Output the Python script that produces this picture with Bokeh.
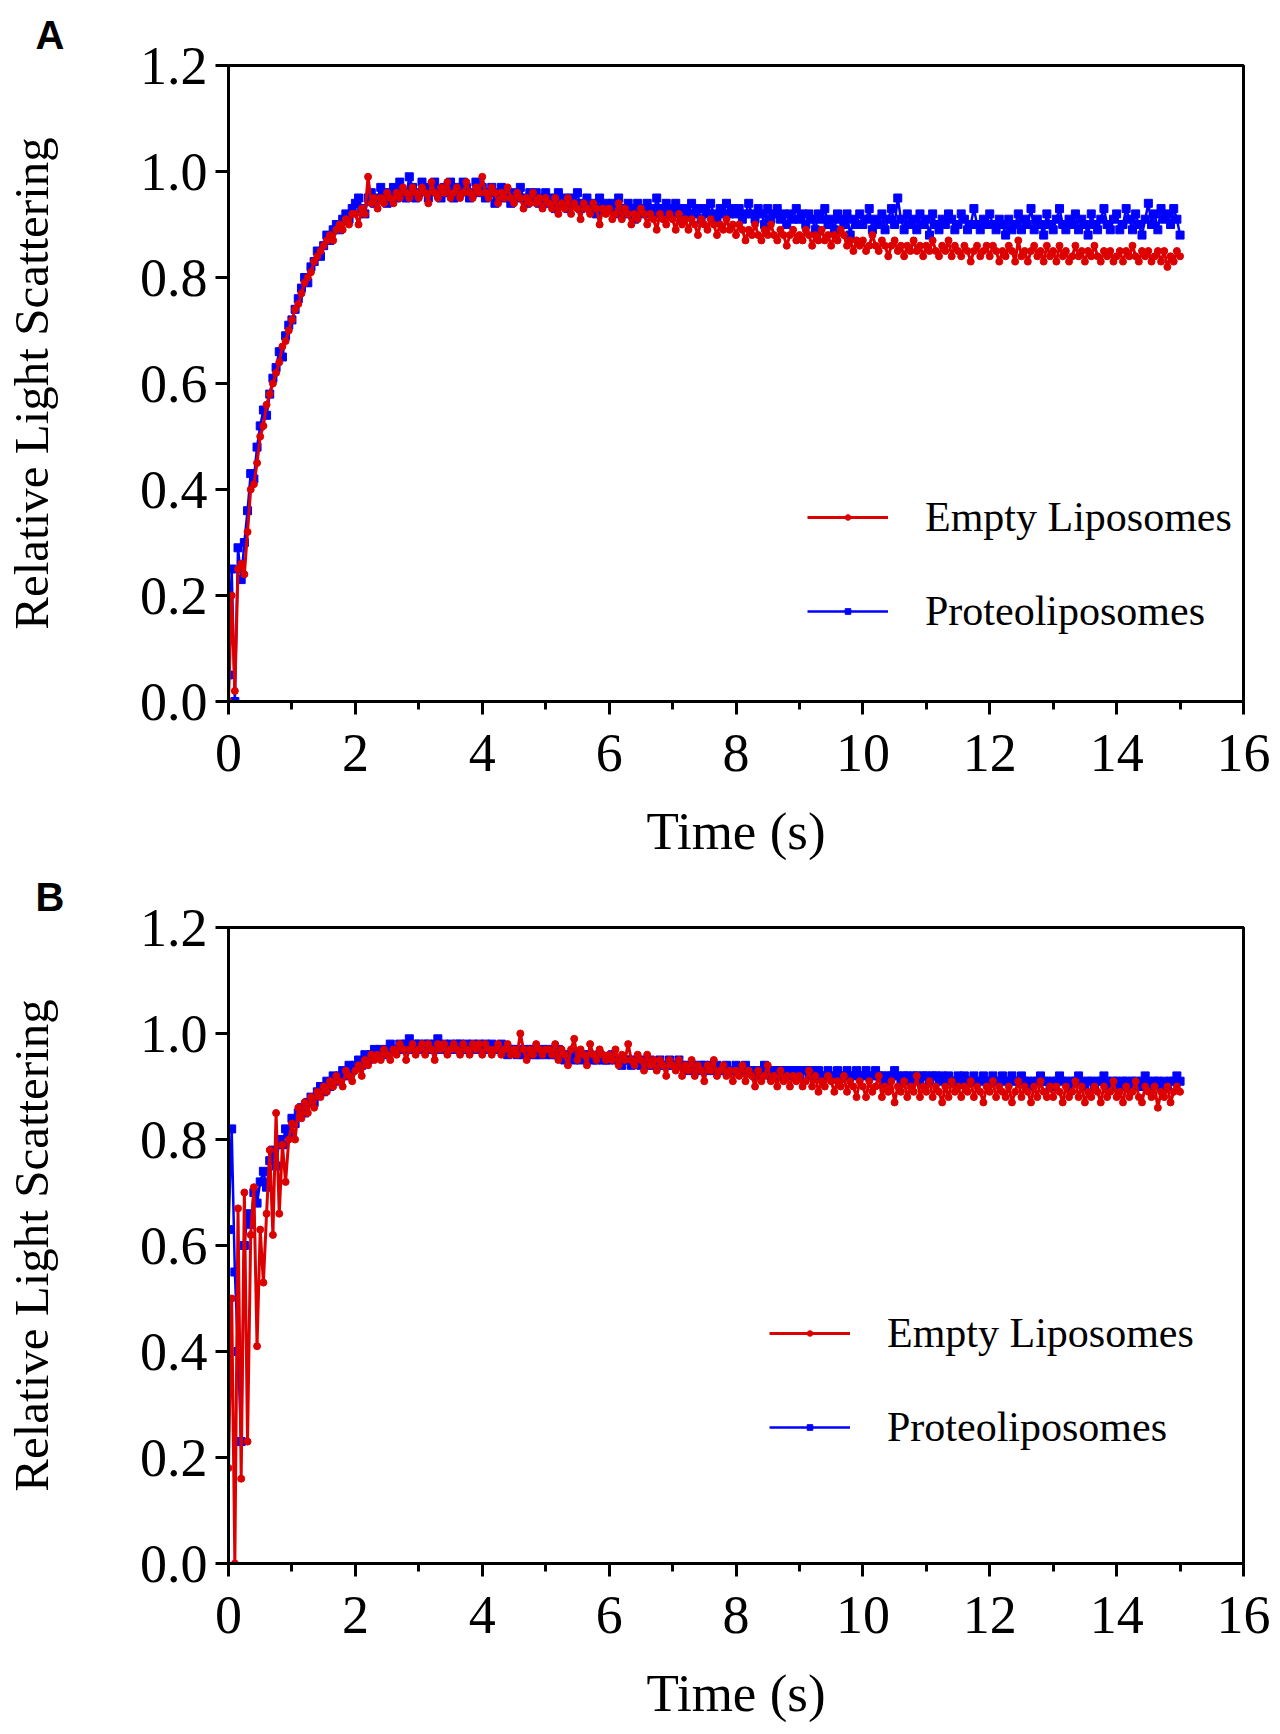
from bokeh.embed import file_html
from bokeh.layouts import column
from bokeh.models import FixedTicker, Legend, Range1d, Title
from bokeh.plotting import figure
from bokeh.resources import INLINE

# sampling grid of the stopped-flow trace, 0.05 s steps from 0 to 15 s
time_s = [round(i * 0.05, 2) for i in range(301)]

# panel A
a_proteo = [
    0.05, 0.25, 0.00, 0.29, 0.23, 0.30, 0.36, 0.43, 0.42, 0.48, 0.52, 0.55, 0.54, 0.58, 0.61, 0.63, 0.66, 0.65, 0.69, 0.71,
    0.72, 0.74, 0.76, 0.78, 0.80, 0.79, 0.82, 0.83, 0.85, 0.84, 0.86, 0.88, 0.87, 0.89, 0.90, 0.89, 0.91, 0.92, 0.91, 0.93,
    0.94, 0.95, 0.93, 0.92, 0.95, 0.96, 0.94, 0.95, 0.97, 0.96, 0.94, 0.96, 0.97, 0.95, 0.98, 0.96, 0.95, 0.99, 0.97, 0.95,
    0.96, 0.98, 0.97, 0.95, 0.97, 0.98, 0.96, 0.95, 0.97, 0.96, 0.98, 0.95, 0.97, 0.96, 0.98, 0.97, 0.95, 0.96, 0.98, 0.96,
    0.97, 0.95, 0.96, 0.97, 0.94, 0.96, 0.97, 0.95, 0.96, 0.94, 0.96, 0.95, 0.97, 0.95, 0.94, 0.96, 0.95, 0.96, 0.94, 0.95,
    0.96, 0.94, 0.95, 0.93, 0.96, 0.94, 0.95, 0.93, 0.95, 0.94, 0.96, 0.93, 0.94, 0.95, 0.93, 0.94, 0.92, 0.95, 0.93, 0.94,
    0.93, 0.94, 0.92, 0.95, 0.93, 0.92, 0.94, 0.93, 0.91, 0.94, 0.93, 0.92, 0.94, 0.93, 0.92, 0.95, 0.93, 0.92, 0.94, 0.93,
    0.92, 0.94, 0.93, 0.91, 0.93, 0.92, 0.94, 0.92, 0.93, 0.91, 0.93, 0.92, 0.94, 0.92, 0.91, 0.93, 0.92, 0.94, 0.92, 0.93,
    0.92, 0.93, 0.91, 0.92, 0.94, 0.92, 0.91, 0.93, 0.92, 0.90, 0.93, 0.91, 0.92, 0.93, 0.91, 0.92, 0.90, 0.92, 0.91, 0.93,
    0.91, 0.92, 0.90, 0.92, 0.91, 0.89, 0.92, 0.91, 0.93, 0.90, 0.91, 0.89, 0.92, 0.91, 0.90, 0.92, 0.88, 0.91, 0.90, 0.92,
    0.90, 0.91, 0.93, 0.89, 0.91, 0.90, 0.92, 0.89, 0.91, 0.93, 0.90, 0.95, 0.91, 0.89, 0.92, 0.90, 0.91, 0.89, 0.92, 0.90,
    0.91, 0.88, 0.92, 0.90, 0.89, 0.91, 0.90, 0.92, 0.91, 0.89, 0.90, 0.92, 0.91, 0.89, 0.90, 0.93, 0.90, 0.89, 0.91, 0.90,
    0.92, 0.90, 0.89, 0.91, 0.90, 0.88, 0.91, 0.89, 0.90, 0.92, 0.89, 0.91, 0.90, 0.93, 0.89, 0.91, 0.90, 0.88, 0.92, 0.90,
    0.89, 0.91, 0.93, 0.90, 0.89, 0.91, 0.90, 0.92, 0.89, 0.91, 0.90, 0.88, 0.92, 0.90, 0.89, 0.91, 0.93, 0.90, 0.89, 0.91,
    0.92, 0.89, 0.90, 0.93, 0.91, 0.89, 0.92, 0.90, 0.88, 0.91, 0.94, 0.90, 0.92, 0.89, 0.93, 0.91, 0.92, 0.90, 0.93, 0.91,
    0.88,
]
a_empty = [
    0.00, 0.20, 0.02, 0.25, 0.26, 0.24, 0.32, 0.40, 0.41, 0.45, 0.50, 0.52, 0.56, 0.58, 0.60, 0.62, 0.64, 0.67, 0.68, 0.70,
    0.72, 0.74, 0.75, 0.77, 0.79, 0.80, 0.81, 0.83, 0.84, 0.85, 0.86, 0.87, 0.88, 0.87, 0.89, 0.90, 0.89, 0.91, 0.90, 0.92,
    0.92, 0.90, 0.93, 0.92, 0.99, 0.94, 0.95, 0.93, 0.95, 0.94, 0.96, 0.95, 0.94, 0.96, 0.95, 0.97, 0.96, 0.95, 0.97, 0.96,
    0.95, 0.97, 0.96, 0.94, 0.98, 0.96, 0.95, 0.97, 0.96, 0.98, 0.95, 0.96, 0.97, 0.95, 0.96, 0.98, 0.96, 0.95, 0.97, 0.96,
    0.99, 0.96, 0.95, 0.97, 0.96, 0.94, 0.96, 0.95, 0.97, 0.95, 0.94, 0.96, 0.95, 0.93, 0.95, 0.94, 0.96, 0.94, 0.95, 0.93,
    0.95, 0.94, 0.93, 0.95, 0.92, 0.94, 0.93, 0.95, 0.92, 0.94, 0.93, 0.91, 0.94, 0.93, 0.92, 0.94, 0.93, 0.90, 0.93, 0.92,
    0.93, 0.91, 0.92, 0.94, 0.91, 0.93, 0.92, 0.90, 0.92, 0.91, 0.93, 0.92, 0.90, 0.92, 0.91, 0.89, 0.92, 0.91, 0.90, 0.92,
    0.91, 0.89, 0.92, 0.90, 0.91, 0.89, 0.91, 0.90, 0.88, 0.91, 0.90, 0.89, 0.91, 0.90, 0.88, 0.90, 0.89, 0.91, 0.89, 0.90,
    0.88, 0.90, 0.89, 0.87, 0.89, 0.88, 0.90, 0.88, 0.87, 0.89, 0.88, 0.90, 0.88, 0.87, 0.89, 0.88, 0.86, 0.88, 0.89, 0.87,
    0.88, 0.87, 0.89, 0.88, 0.86, 0.88, 0.87, 0.89, 0.87, 0.88, 0.86, 0.88, 0.87, 0.89, 0.88, 0.86, 0.87, 0.85, 0.87, 0.86,
    0.87, 0.85, 0.86, 0.88, 0.86, 0.85, 0.87, 0.86, 0.84, 0.86, 0.87, 0.85, 0.86, 0.84, 0.86, 0.85, 0.87, 0.85, 0.86, 0.84,
    0.86, 0.85, 0.87, 0.85, 0.84, 0.86, 0.85, 0.87, 0.84, 0.86, 0.85, 0.84, 0.86, 0.85, 0.83, 0.85, 0.86, 0.84, 0.85, 0.86,
    0.84, 0.86, 0.85, 0.83, 0.85, 0.84, 0.86, 0.85, 0.83, 0.87, 0.84, 0.85, 0.83, 0.85, 0.86, 0.84, 0.85, 0.83, 0.86, 0.84,
    0.85, 0.83, 0.86, 0.84, 0.85, 0.83, 0.84, 0.86, 0.84, 0.85, 0.83, 0.85, 0.84, 0.86, 0.84, 0.83, 0.85, 0.84, 0.85, 0.83,
    0.84, 0.85, 0.83, 0.85, 0.84, 0.86, 0.84, 0.83, 0.85, 0.84, 0.85, 0.83, 0.84, 0.85, 0.83, 0.85, 0.82, 0.84, 0.83, 0.85,
    0.84,
]

# panel B
b_proteo = [
    0.63, 0.82, 0.55, 0.40, 0.23, 0.60, 0.66, 0.64, 0.70, 0.68, 0.72, 0.74, 0.71, 0.76, 0.78, 0.75, 0.80, 0.79, 0.82, 0.81,
    0.84, 0.83, 0.85, 0.86, 0.85, 0.87, 0.88, 0.87, 0.89, 0.90, 0.89, 0.91, 0.90, 0.92, 0.91, 0.92, 0.93, 0.92, 0.94, 0.93,
    0.94, 0.95, 0.94, 0.96, 0.95, 0.96, 0.97, 0.96, 0.97, 0.96, 0.97, 0.98, 0.97, 0.97, 0.98, 0.97, 0.98, 0.99, 0.97, 0.98,
    0.98, 0.97, 0.98, 0.98, 0.97, 0.98, 0.99, 0.97, 0.98, 0.97, 0.98, 0.97, 0.98, 0.98, 0.97, 0.98, 0.97, 0.98, 0.97, 0.98,
    0.97, 0.98, 0.97, 0.98, 0.97, 0.97, 0.98, 0.97, 0.96, 0.97, 0.97, 0.96, 0.97, 0.96, 0.97, 0.96, 0.97, 0.96, 0.96, 0.97,
    0.96, 0.97, 0.96, 0.96, 0.97, 0.96, 0.95, 0.96, 0.96, 0.95, 0.96, 0.95, 0.96, 0.95, 0.96, 0.95, 0.95, 0.96, 0.95, 0.95,
    0.95, 0.96, 0.95, 0.95, 0.94, 0.95, 0.95, 0.94, 0.95, 0.95, 0.94, 0.95, 0.94, 0.95, 0.94, 0.94, 0.95, 0.94, 0.94, 0.95,
    0.94, 0.94, 0.95, 0.94, 0.94, 0.93, 0.94, 0.94, 0.93, 0.94, 0.94, 0.93, 0.94, 0.93, 0.94, 0.93, 0.93, 0.94, 0.93, 0.93,
    0.94, 0.93, 0.93, 0.94, 0.93, 0.93, 0.92, 0.93, 0.93, 0.94, 0.93, 0.92, 0.93, 0.93, 0.92, 0.93, 0.93, 0.92, 0.93, 0.93,
    0.92, 0.93, 0.93, 0.92, 0.93, 0.92, 0.93, 0.92, 0.92, 0.93, 0.92, 0.92, 0.93, 0.92, 0.92, 0.93, 0.92, 0.92, 0.93, 0.92,
    0.92, 0.93, 0.92, 0.92, 0.93, 0.92, 0.92, 0.91, 0.92, 0.92, 0.93, 0.92, 0.91, 0.92, 0.92, 0.91, 0.92, 0.92, 0.91, 0.92,
    0.92, 0.91, 0.92, 0.92, 0.91, 0.92, 0.91, 0.92, 0.91, 0.91, 0.92, 0.91, 0.92, 0.91, 0.91, 0.92, 0.91, 0.91, 0.92, 0.91,
    0.91, 0.92, 0.91, 0.91, 0.92, 0.91, 0.91, 0.92, 0.91, 0.91, 0.92, 0.91, 0.91, 0.90, 0.91, 0.91, 0.92, 0.91, 0.91, 0.90,
    0.91, 0.91, 0.92, 0.91, 0.91, 0.90, 0.91, 0.91, 0.92, 0.91, 0.90, 0.91, 0.91, 0.90, 0.91, 0.91, 0.92, 0.91, 0.90, 0.91,
    0.91, 0.90, 0.91, 0.91, 0.90, 0.91, 0.91, 0.90, 0.91, 0.92, 0.91, 0.90, 0.91, 0.91, 0.90, 0.91, 0.90, 0.91, 0.91, 0.92,
    0.91,
]
b_empty = [
    0.18, 0.50, 0.00, 0.67, 0.16, 0.70, 0.23, 0.62, 0.71, 0.41, 0.63, 0.53, 0.66, 0.78, 0.62, 0.85, 0.66, 0.79, 0.72, 0.80,
    0.83, 0.80, 0.86, 0.84, 0.87, 0.85, 0.88, 0.86, 0.89, 0.88, 0.90, 0.89, 0.91, 0.90, 0.92, 0.91, 0.90, 0.93, 0.92, 0.91,
    0.93, 0.94, 0.92, 0.95, 0.94, 0.96, 0.95, 0.96, 0.95, 0.97, 0.96, 0.95, 0.97, 0.96, 0.98, 0.97, 0.95, 0.97, 0.98, 0.96,
    0.97, 0.98, 0.96, 0.98, 0.97, 0.95, 0.98, 0.97, 0.98, 0.96, 0.97, 0.98, 0.97, 0.96, 0.98, 0.97, 0.96, 0.98, 0.97, 0.98,
    0.96, 0.98, 0.97, 0.96, 0.97, 0.98, 0.96, 0.97, 0.98, 0.96, 0.97, 0.96, 1.00, 0.97, 0.95, 0.97, 0.96, 0.98, 0.97, 0.96,
    0.97, 0.97, 0.96, 0.98, 0.95, 0.97, 0.96, 0.94, 0.97, 0.99, 0.95, 0.97, 0.96, 0.94, 0.98, 0.96, 0.95, 0.97, 0.96, 0.95,
    0.96, 0.95, 0.97, 0.94, 0.96, 0.95, 0.98, 0.95, 0.94, 0.96, 0.95, 0.93, 0.96, 0.94, 0.95, 0.93, 0.95, 0.94, 0.92, 0.95,
    0.94, 0.93, 0.95, 0.92, 0.94, 0.93, 0.95, 0.92, 0.94, 0.93, 0.91, 0.94, 0.93, 0.95, 0.92, 0.93, 0.94, 0.92, 0.93, 0.91,
    0.93, 0.92, 0.94, 0.91, 0.93, 0.92, 0.90, 0.93, 0.91, 0.92, 0.94, 0.91, 0.92, 0.90, 0.93, 0.91, 0.92, 0.90, 0.92, 0.91,
    0.92, 0.90, 0.91, 0.93, 0.90, 0.92, 0.89, 0.91, 0.90, 0.92, 0.91, 0.89, 0.91, 0.90, 0.92, 0.89, 0.91, 0.90, 0.88, 0.91,
    0.90, 0.88, 0.91, 0.89, 0.90, 0.92, 0.88, 0.90, 0.89, 0.91, 0.87, 0.90, 0.89, 0.91, 0.88, 0.90, 0.89, 0.92, 0.88, 0.90,
    0.89, 0.91, 0.88, 0.90, 0.89, 0.87, 0.90, 0.88, 0.91, 0.89, 0.90, 0.88, 0.90, 0.89, 0.91, 0.88, 0.90, 0.89, 0.87, 0.90,
    0.89, 0.91, 0.88, 0.90, 0.89, 0.88, 0.90, 0.87, 0.89, 0.91, 0.88, 0.90, 0.89, 0.87, 0.90, 0.88, 0.91, 0.89, 0.88, 0.90,
    0.88, 0.90, 0.89, 0.87, 0.90, 0.88, 0.89, 0.91, 0.88, 0.90, 0.87, 0.89, 0.88, 0.90, 0.89, 0.87, 0.90, 0.88, 0.89, 0.91,
    0.88, 0.89, 0.87, 0.90, 0.88, 0.89, 0.91, 0.88, 0.87, 0.90, 0.89, 0.88, 0.90, 0.86, 0.89, 0.88, 0.90, 0.87, 0.89, 0.90,
    0.89,
]

x_ticks = [0, 2, 4, 6, 8, 10, 12, 14, 16]
x_minor = [1, 3, 5, 7, 9, 11, 13, 15]
y_ticks = [0.0, 0.2, 0.4, 0.6, 0.8, 1.0, 1.2]

RED = "#dd0000"
BLUE = "#0000ff"
SERIF = "Liberation Serif"


def panel(letter, proteo, empty, height, top, bottom, legend_xy):
    p = figure(width=1272, height=height, output_backend="svg", toolbar_location=None,
               x_range=Range1d(0, 16), y_range=Range1d(0, 1.2),
               min_border_left=227, min_border_right=29,
               min_border_top=top, min_border_bottom=bottom)
    p.grid.visible = False
    p.outline_line_color = "black"
    p.outline_line_width = 3
    p.outline_line_alpha = 1

    p.xaxis.ticker = FixedTicker(ticks=x_ticks, minor_ticks=x_minor)
    p.yaxis.ticker = FixedTicker(ticks=y_ticks)
    p.yaxis.major_label_overrides = {t: "%.1f" % t for t in y_ticks}
    p.xaxis.axis_label = "Time (s)"
    p.yaxis.axis_label = "Relative Light Scattering"
    for ax in (p.xaxis, p.yaxis):
        ax.axis_line_width = 3
        ax.major_tick_line_width = 3
        ax.minor_tick_line_width = 3
        ax.major_tick_in = 0
        ax.major_tick_out = 13
        ax.minor_tick_in = 0
        ax.minor_tick_out = 8
        ax.major_label_text_font = SERIF
        ax.major_label_text_font_size = "54px"
        ax.major_label_text_color = "black"
        ax.axis_label_text_font = SERIF
        ax.axis_label_text_font_style = "normal"
        ax.axis_label_text_color = "black"
    p.yaxis.minor_tick_line_color = None
    p.xaxis.axis_label_text_font_size = "53px"
    p.yaxis.axis_label_text_font_size = "49px"
    p.xaxis.major_label_standoff = 20
    p.yaxis.major_label_standoff = 8
    p.xaxis.axis_label_standoff = 28
    p.yaxis.axis_label_standoff = 78

    bl = p.line(time_s, proteo, line_color=BLUE, line_width=2.5)
    bs = p.scatter(time_s, proteo, marker="square", size=8, color=BLUE)
    rl = p.line(time_s, empty, line_color=RED, line_width=3)
    rs = p.scatter(time_s, empty, marker="circle", size=7, color=RED)

    legend = Legend(items=[("Empty Liposomes", [rl, rs]), ("Proteoliposomes", [bl, bs])],
                    location=legend_xy, orientation="vertical",
                    glyph_width=81, glyph_height=14, label_height=42,
                    label_standoff=37, spacing=46, padding=0, margin=0,
                    label_text_font=SERIF, label_text_font_size="42px",
                    label_text_color="black",
                    background_fill_alpha=0, border_line_alpha=0)
    p.add_layout(legend)

    # panel letter as a left-aligned title pushed out to the page edge
    p.add_layout(Title(text=letter, align="left", offset=-193, standoff=18,
                       text_font="Liberation Sans", text_font_style="bold",
                       text_font_size="40px", text_color="black"), "above")
    return p


pa = panel("A", a_proteo, a_empty, 862, 65, 161, (579, 66))
pb = panel("B", b_proteo, b_empty, 862, 65, 160, (541, 112))

layout = column(pa, pb, spacing=0)
open("out.html", "w").write(file_html(layout, INLINE))
